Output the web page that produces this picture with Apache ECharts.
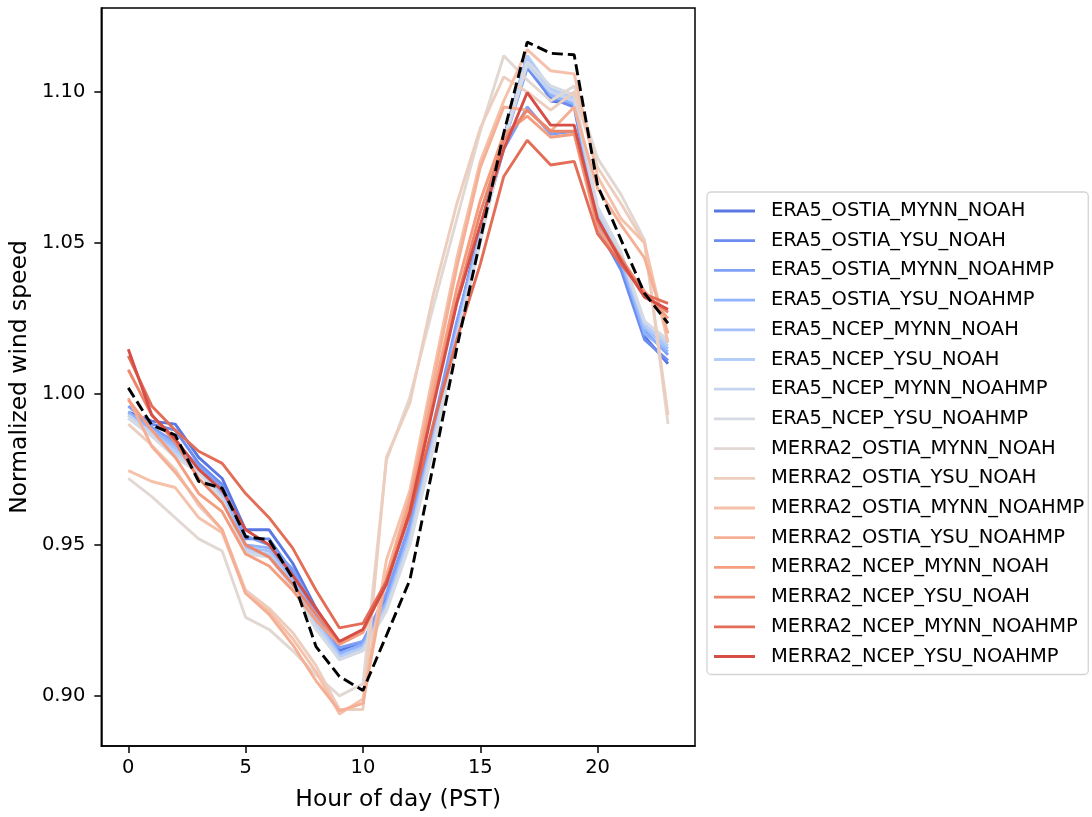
<!DOCTYPE html>
<html>
<head>
<meta charset="utf-8">
<script src="https://cdn.jsdelivr.net/npm/echarts@6/dist/echarts.min.js"></script>
<style>
html,body{margin:0;padding:0;background:#fff;}
#chart{width:1092px;height:817px;}
</style>
</head>
<body>
<div id="chart"></div>
<script>
// ---- data ----
const hours = [0,1,2,3,4,5,6,7,8,9,10,11,12,13,14,15,16,17,18,19,20,21,22,23];
const xTicks = [0,5,10,15,20];
const yTicks = [0.90,0.95,1.00,1.05,1.10];

const seriesNames = [
  "ERA5_OSTIA_MYNN_NOAH","ERA5_OSTIA_YSU_NOAH","ERA5_OSTIA_MYNN_NOAHMP","ERA5_OSTIA_YSU_NOAHMP",
  "ERA5_NCEP_MYNN_NOAH","ERA5_NCEP_YSU_NOAH","ERA5_NCEP_MYNN_NOAHMP","ERA5_NCEP_YSU_NOAHMP",
  "MERRA2_OSTIA_MYNN_NOAH","MERRA2_OSTIA_YSU_NOAH","MERRA2_OSTIA_MYNN_NOAHMP","MERRA2_OSTIA_YSU_NOAHMP",
  "MERRA2_NCEP_MYNN_NOAH","MERRA2_NCEP_YSU_NOAH","MERRA2_NCEP_MYNN_NOAHMP","MERRA2_NCEP_YSU_NOAHMP"
];

const era5OstiaMynnNoah    = [0.994,0.991,0.990,0.979,0.972,0.955,0.955,0.944,0.929,0.915,0.918,0.933,0.956,0.988,1.023,1.055,1.085,1.112,1.097,1.096,1.056,1.042,1.019,1.010];
const era5OstiaYsuNoah     = [0.993,0.990,0.988,0.977,0.970,0.952,0.952,0.941,0.927,0.914,0.917,0.932,0.955,0.987,1.022,1.054,1.083,1.108,1.098,1.095,1.055,1.041,1.018,1.011];
const era5OstiaMynnNoahmp  = [0.996,0.989,0.984,0.976,0.969,0.953,0.950,0.942,0.928,0.916,0.918,0.934,0.957,0.990,1.024,1.053,1.081,1.095,1.086,1.087,1.057,1.043,1.021,1.013];
const era5OstiaYsuNoahmp   = [0.994,0.988,0.983,0.975,0.967,0.950,0.949,0.939,0.926,0.914,0.917,0.931,0.954,0.986,1.021,1.054,1.084,1.110,1.099,1.096,1.058,1.044,1.020,1.014];
const era5NcepMynnNoah     = [0.993,0.987,0.982,0.974,0.966,0.949,0.948,0.938,0.925,0.913,0.916,0.930,0.953,0.985,1.020,1.052,1.083,1.111,1.100,1.097,1.059,1.045,1.022,1.015];
const era5NcepYsuNoah      = [0.992,0.986,0.981,0.975,0.966,0.948,0.947,0.937,0.924,0.913,0.916,0.929,0.952,0.984,1.019,1.052,1.084,1.112,1.101,1.098,1.060,1.046,1.023,1.016];
const era5NcepMynnNoahmp   = [0.993,0.987,0.980,0.974,0.965,0.948,0.946,0.936,0.923,0.912,0.915,0.929,0.951,0.983,1.019,1.051,1.083,1.109,1.100,1.097,1.061,1.046,1.024,1.017];
const era5NcepYsuNoahmp    = [0.992,0.986,0.979,0.974,0.965,0.947,0.946,0.936,0.922,0.912,0.915,0.928,0.950,0.982,1.018,1.050,1.084,1.110,1.102,1.099,1.062,1.047,1.024,1.018];
const merraOstiaMynnNoah   = [0.972,0.966,0.959,0.952,0.948,0.926,0.922,0.915,0.907,0.900,0.904,0.978,0.999,1.029,1.058,1.087,1.112,1.104,1.097,1.102,1.078,1.066,1.051,0.990];
const merraOstiaYsuNoah    = [0.990,0.983,0.975,0.963,0.955,0.935,0.929,0.921,0.910,0.8955,0.8955,0.979,0.997,1.033,1.063,1.088,1.105,1.100,1.094,1.100,1.075,1.063,1.050,0.993];
const merraOstiaMynnNoahmp = [0.9746,0.971,0.969,0.959,0.954,0.934,0.928,0.919,0.908,0.894,0.899,0.945,0.968,1.007,1.045,1.077,1.097,1.114,1.107,1.106,1.072,1.058,1.050,1.017];
const merraOstiaYsuNoahmp  = [0.9986,0.9826,0.974,0.964,0.955,0.934,0.927,0.917,0.905,0.895,0.8975,0.940,0.966,1.004,1.042,1.075,1.095,1.094,1.087,1.095,1.068,1.056,1.045,1.020];
const merraNcepMynnNoah    = [0.998,0.988,0.979,0.967,0.961,0.947,0.943,0.935,0.925,0.917,0.921,0.938,0.964,1.000,1.035,1.064,1.086,1.092,1.085,1.086,1.055,1.044,1.034,1.025];
const merraNcepYsuNoah     = [1.008,0.993,0.984,0.972,0.964,0.950,0.946,0.937,0.927,0.918,0.922,0.937,0.961,0.997,1.031,1.060,1.084,1.094,1.087,1.087,1.057,1.045,1.033,1.027];
const merraNcepMynnNoahmp  = [1.0126,0.996,0.988,0.981,0.977,0.967,0.959,0.949,0.935,0.9225,0.924,0.938,0.960,0.990,1.018,1.043,1.072,1.084,1.0758,1.077,1.053,1.043,1.033,1.030];
const merraNcepYsuNoahmp   = [1.0148,0.993,0.985,0.975,0.968,0.955,0.950,0.940,0.929,0.918,0.922,0.937,0.961,0.996,1.030,1.056,1.081,1.0998,1.089,1.089,1.058,1.044,1.032,1.028];
const observed             = [1.002,0.9897,0.9864,0.971,0.9688,0.9527,0.9517,0.939,0.9163,0.9064,0.9018,0.920,0.9384,0.9765,1.0152,1.051,1.0864,1.1165,1.1128,1.1123,1.069,1.051,1.0333,1.0234];

const seriesValues = [
  era5OstiaMynnNoah, era5OstiaYsuNoah, era5OstiaMynnNoahmp, era5OstiaYsuNoahmp,
  era5NcepMynnNoah, era5NcepYsuNoah, era5NcepMynnNoahmp, era5NcepYsuNoahmp,
  merraOstiaMynnNoah, merraOstiaYsuNoah, merraOstiaMynnNoahmp, merraOstiaYsuNoahmp,
  merraNcepMynnNoah, merraNcepYsuNoah, merraNcepMynnNoahmp, merraNcepYsuNoahmp
];

// ---- styles ----
const colors = ["#5a77e2","#6c8cef","#7ea0f7","#90b3fe","#a3c0fb","#b5cef9","#c5d5ef","#d5dae3",
                "#e2d8d3","#eccdbe","#f5c1aa","#f5af94","#f49d7f","#ec866b","#e36d57","#d64e45"];
const FONT = "DejaVu Sans";
const LW = 2.9;
const LEGEND_LINE = 'path://M0,0L0.001,0M0,8.6L41,8.6L41,11.4L0,11.4ZM41,20L40.999,20';

const series = seriesNames.map((name, i) => ({
  name: name,
  type: 'line',
  data: hours.map((h, j) => [h, seriesValues[i][j]]),
  showSymbol: false,
  symbol: 'none',
  color: colors[i],
  lineStyle: { color: colors[i], width: LW },
  emphasis: { disabled: true },
  z: 2
}));
series.push({
  name: 'observed',
  type: 'line',
  data: hours.map((h, j) => [h, observed[j]]),
  showSymbol: false,
  symbol: 'none',
  color: '#000',
  lineStyle: { color: '#000', width: LW, type: [11, 5] },
  emphasis: { disabled: true },
  z: 3
});

const chart = echarts.init(document.getElementById('chart'), null, { renderer: 'canvas' });
chart.setOption({
  animation: false,
  backgroundColor: '#fff',
  grid: { left: 100, top: 8, width: 595, height: 738, show: true, borderColor: '#000', borderWidth: 1.5, backgroundColor: 'transparent' },
  xAxis: {
    type: 'value', min: -1.15, max: 24.15,
    name: 'Hour of day (PST)', nameLocation: 'middle', nameGap: 42,
    nameTextStyle: { fontFamily: FONT, fontSize: 23.4, color: '#000' },
    axisLine: { show: true, onZero: false, lineStyle: { color: '#000', width: 1.5 } },
    axisTick: { show: true, length: 7, lineStyle: { color: '#000', width: 1.5 }, customValues: xTicks },
    axisLabel: { fontFamily: FONT, fontSize: 19.5, color: '#000', margin: 12, customValues: xTicks, formatter: v => String(v) },
    splitLine: { show: false }
  },
  yAxis: {
    type: 'value', min: 0.8834, max: 1.1278,
    name: 'Normalized wind speed', nameLocation: 'middle', nameGap: 63,
    nameTextStyle: { fontFamily: FONT, fontSize: 23.4, color: '#000' },
    axisLine: { show: true, onZero: false, lineStyle: { color: '#000', width: 1.5 } },
    axisTick: { show: true, length: 7, lineStyle: { color: '#000', width: 1.5 }, customValues: yTicks },
    axisLabel: { fontFamily: FONT, fontSize: 19.5, color: '#000', margin: 16, customValues: yTicks, formatter: v => v.toFixed(2) },
    splitLine: { show: false }
  },
  legend: {
    data: seriesNames.map(n => ({ name: n, icon: LEGEND_LINE })),
    orient: 'vertical',
    left: 707, top: 192,
    padding: [9, 4, 8, 7],
    itemWidth: 41, itemHeight: 20, itemGap: 9.7,
    borderColor: '#d4d4d4', borderWidth: 1.3, borderRadius: 4,
    backgroundColor: '#fff',
    selectedMode: false,
    itemStyle: { borderWidth: 0 },
    lineStyle: { width: 0 },
    textStyle: { fontFamily: FONT, fontSize: 19.5, color: '#000', padding: [0, 0, 0, 11], lineHeight: 20 }
  },
  series: series
});
</script>
</body>
</html>
